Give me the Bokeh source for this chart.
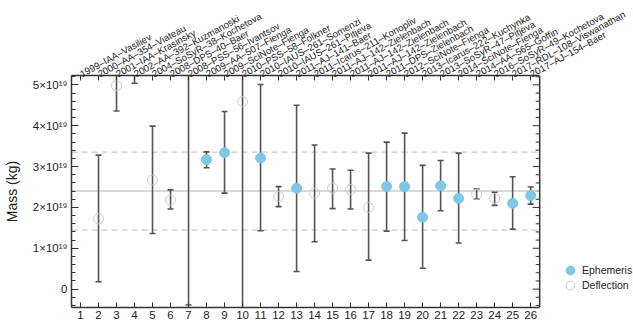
import numpy as np
from bokeh.plotting import figure
from bokeh.models import (ColumnDataSource, Range1d, LinearAxis, FixedTicker,
                          Legend, LegendItem, Span)
from bokeh.embed import file_html
from bokeh.resources import INLINE

# ---- data (mass in units of 1e19 kg) ----
idx = list(range(1, 27))
labels = [
    "1999–IAA–Vasiliev", "2000–AA–354–Viateau", "2001–IAA–Krasinsky",
    "2002–AA–392–Kuzmanoski", "2004–SoSyR–38–Kochetova", "2008–DPS–40–Baer",
    "2008–PSS–56–Ivantsov", "2009–AA–507–Fienga", "2009–SciNote–Fienga",
    "2010–PSS–58–Folkner", "2010–IAUS–261–Somenzi", "2010–IAUS–261–Pitjeva",
    "2011–AJ–141–Baer", "2011–Icarus–211–Konopliv", "2011–AJ–142–Zielenbach",
    "2011–AJ–142–Zielenbach", "2011–AJ–142–Zielenbach", "2011–DPS–Zielenbach",
    "2012–SciNote–Fienga", "2013–Icarus–222–Kuchynka", "2013–SoSyR–47–Pitjeva",
    "2014–SciNote–Fienga", "2014–AA–565–Goffin", "2016–SoSyR–49–Kochetova",
    "2017–RDL–108–Viswanathan", "2017–AJ–154–Baer",
]
# method: "E" ephemerides (filled), "D" deflections (open)
method = ["D", "D", "D", "D", "D", "D", "D", "E", "E", "D", "E", "D", "E",
          "D", "D", "D", "D", "E", "E", "E", "E", "E", "D", "D", "E", "E"]
mass = [np.nan, 1.72, 4.98, 5.60, 2.67, 2.18, 5.50, 3.17, 3.34, 4.59, 3.21, 2.27, 2.47,
        2.35, 2.47, 2.44, 2.00, 2.51, 2.51, 1.76, 2.53, 2.22, 2.32, 2.22, 2.10, 2.29]
upper = [np.nan, 3.28, 5.60, 6.20, 3.99, 2.43, 11.40, 3.36, 4.35, 10.70, 5.01, 2.51, 4.50,
         3.53, 2.94, 2.91, 3.33, 3.60, 3.82, 3.03, 3.15, 3.33, 2.45, 2.37, 2.75, 2.50]
lower = [np.nan, 0.18, 4.36, 5.04, 1.36, 1.96, -0.39, 2.97, 2.35, -1.50, 1.43, 2.02, 0.43,
         1.16, 1.97, 1.96, 0.71, 1.42, 1.19, 0.51, 1.92, 1.13, 2.21, 2.05, 1.47, 2.08]
mean_mass = 2.40
mean_sigma = 0.955
ytick_vals = [0, 1, 2, 3, 4, 5]
ytick_text = ["0", "1×10¹⁹", "2×10¹⁹", "3×10¹⁹", "4×10¹⁹", "5×10¹⁹"]
legend_labels = ["Ephemeris", "Deflection"]

src_all = ColumnDataSource(dict(x=idx, m=mass, up=upper, lo=lower))
eph = [i for i in range(26) if method[i] == "E"]
dfl = [i for i in range(26) if method[i] == "D"]
src_e = ColumnDataSource(dict(x=[idx[i] for i in eph], m=[mass[i] for i in eph]))
src_d = ColumnDataSource(dict(x=[idx[i] for i in dfl], m=[mass[i] for i in dfl]))

FILL = "#7ec8e6"
OPEN = "#cccccc"
ERR = "#555555"
AX = "#333333"
FONT = "Liberation Sans"

X0, X1 = 0.5, 26.5          # visible box in data units
Y0, Y1 = -0.45, 5.23
W, H = 633, 326
LEFT, TOP, BOTTOM = 70, 73, 19
BOX_W = 469                 # pixel width of the boxed area
x_end = X0 + (X1 - X0) * (W - LEFT) / BOX_W   # frame extends to the right for the legend

p = figure(width=W, height=H, output_backend="svg", toolbar_location=None,
           x_range=Range1d(X0, x_end), y_range=Range1d(Y0, Y1),
           min_border_left=LEFT, min_border_right=0, min_border_top=TOP,
           min_border_bottom=BOTTOM, x_axis_location=None, y_axis_location=None)
p.background_fill_color = "white"
p.border_fill_color = "white"
p.outline_line_color = None
p.xgrid.visible = False
p.ygrid.visible = False

def style_axis(ax):
    ax.axis_line_color = AX
    ax.axis_line_width = 1.5
    ax.major_tick_line_color = AX
    ax.minor_tick_line_color = AX
    ax.major_tick_in = 7
    ax.major_tick_out = 0
    ax.minor_tick_in = 4
    ax.minor_tick_out = 0
    ax.major_label_text_font = FONT
    ax.major_label_text_color = "#222222"
    ax.major_label_text_font_size = "11.5px"
    ax.major_label_standoff = 4

# bottom axis
xb = LinearAxis(ticker=FixedTicker(ticks=idx), bounds=(X0, X1))
style_axis(xb)
xb.major_tick_in = 5
xb.major_label_standoff = 3
p.add_layout(xb, "below")

# top axis with rotated labels
xt = LinearAxis(ticker=FixedTicker(ticks=idx), bounds=(X0, X1),
                major_label_overrides={i: labels[i - 1] for i in idx},
                major_label_orientation=0.5)
style_axis(xt)
xt.major_tick_in = 5
xt.major_label_text_font_size = "9.6px"
xt.major_label_standoff = 1
p.add_layout(xt, "above")

# left axis
minor = [v / 5.0 for v in range(-2, 27) if v % 5 != 0]
yl = LinearAxis(ticker=FixedTicker(ticks=ytick_vals, minor_ticks=minor),
                major_label_overrides={v: t for v, t in zip(ytick_vals, ytick_text)},
                axis_label="Mass (kg)")
style_axis(yl)
yl.axis_label_text_font = FONT
yl.axis_label_text_font_style = "normal"
yl.axis_label_text_font_size = "14px"
yl.axis_label_text_color = "#222222"
yl.axis_label_standoff = 10
p.add_layout(yl, "left")

# right edge of the box with inward ticks
p.add_layout(Span(location=X1, dimension="height", line_color=AX, line_width=1.5))
p.ray(x=[X1] * len(ytick_vals), y=ytick_vals, length=7, length_units="screen",
      angle=np.pi, line_color=AX, line_width=1)
p.ray(x=[X1] * len(minor), y=minor, length=4, length_units="screen",
      angle=np.pi, line_color=AX, line_width=1)

# reference lines (mean and +/- sigma)
p.segment(x0=[X0], y0=[mean_mass], x1=[X1], y1=[mean_mass], line_color="#cccccc", line_width=1.5)
p.segment(x0=[X0, X0], y0=[mean_mass - mean_sigma, mean_mass + mean_sigma],
          x1=[X1, X1], y1=[mean_mass - mean_sigma, mean_mass + mean_sigma],
          line_color="#cccccc", line_width=1.2, line_dash="6 4")

# error bars
p.segment(x0="x", y0="lo", x1="x", y1="up", source=src_all, line_color=ERR, line_width=1.6)
p.scatter(x="x", y="up", source=src_all, marker="dash", size=6, line_color=ERR, line_width=1.6)
p.scatter(x="x", y="lo", source=src_all, marker="dash", size=6, line_color=ERR, line_width=1.6)

# markers
r_d = p.scatter(x="x", y="m", source=src_d, marker="circle", size=10,
                fill_color=None, line_color=OPEN, line_width=1)
r_e = p.scatter(x="x", y="m", source=src_e, marker="circle", size=10,
                fill_color=FILL, line_color=FILL, line_width=1)

def make_legend(label, renderer, y_off):
    lg = Legend(items=[LegendItem(label=label, renderers=[renderer])], location=(488, y_off))
    lg.background_fill_alpha = 0
    lg.border_line_alpha = 0
    lg.label_text_font = FONT
    lg.label_text_font_size = "10.5px"
    lg.label_text_color = "#222222"
    lg.glyph_width = 22
    lg.glyph_height = 22
    lg.label_height = 22
    lg.padding = 0
    lg.margin = 0
    lg.label_standoff = 1
    return lg

p.add_layout(make_legend(legend_labels[0], r_e, 26), "center")
p.add_layout(make_legend(legend_labels[1], r_d, 11), "center")

open("out.html", "w").write(file_html(p, INLINE))
